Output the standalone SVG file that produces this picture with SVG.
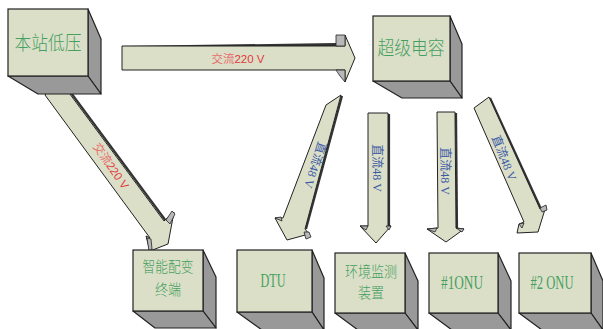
<svg xmlns="http://www.w3.org/2000/svg" width="603" height="329" viewBox="0 0 603 329">
<style>
.front{fill:#dcdfc8;stroke:#222;stroke-width:1.2}
.side{fill:#999;stroke:#222;stroke-width:1.2;stroke-linejoin:round}
.arrow{fill:#dcdfc8;stroke:#222;stroke-width:1;stroke-linejoin:miter}
.shadow{fill:none;stroke:#333;stroke-width:2.2}
.bit{fill:#b8b8b8;stroke:#222;stroke-width:0.8}
.lbl{font-family:"Liberation Serif","Noto Sans CJK SC",serif;font-weight:300;fill:#45a060;text-anchor:middle;dominant-baseline:central}
.red{font-family:"Liberation Sans","Noto Sans CJK SC",sans-serif;font-size:11.5px;fill:#e03a3a;text-anchor:middle;dominant-baseline:central}
.blue{font-family:"Liberation Serif","Noto Sans CJK SC",serif;font-size:12px;fill:#3b5ba5;text-anchor:middle;dominant-baseline:central}
</style>
<rect width="603" height="329" fill="#fff"/>

<g id="connectors">
  <!-- horizontal 220V -->
  <g id="c-h">
    <polygon points="122,46 336,43 336,46" fill="#333"/>
    <polygon class="arrow" points="122,46 345,46 345,35 355,58 345,82 345,70 122,70"/>
    <polygon class="bit" points="336,35 345,35 345,46 336,46"/>
    <polygon class="bit" points="336,70 345,70 345,82 340,76"/>
    <text class="red" x="238" y="59"><tspan fill="#e86a6a">交流</tspan>220 V</text>
  </g>
  <!-- diagonal 220V -->
  <g id="c-d">
    <line class="shadow" x1="60" y1="78" x2="166" y2="221"/>
    <polygon class="arrow" points="58,78 164,221 174,212 168,244 150,251 146,236 150,238 45,95"/>
    <polygon class="bit" points="166,220 172,211 175,214 170,224"/>
    <polygon class="bit" points="147,238 151,239 152,249 149,251"/>
    <text class="red" transform="translate(111,166) rotate(55.2)" font-size="12"><tspan fill="#e86a6a">交流</tspan>220 V</text>
  </g>
  <!-- A to DTU -->
  <g id="c-a">
    <line class="shadow" x1="342" y1="96" x2="306" y2="229"/>
    <polygon class="arrow" points="326,105 341,95 305,229 309,234 287,240 275,218 283,218"/>
    <polygon class="bit" points="304,232 309,232 311,237 306,239"/>
    <polygon class="bit" points="275,218 281,217 282,221"/>
    <text class="blue" transform="translate(315,165) rotate(107.8)">直流48 V</text>
  </g>
  <!-- B to 环境监测 -->
  <g id="c-b">
    <line class="shadow" x1="389" y1="114" x2="389" y2="226"/>
    <polygon class="arrow" points="368,113 388,113 388,226 391,226 376,243 360,226 368,226"/>
    <polygon class="bit" points="360,226 368,226 366,230"/>
    <polygon class="bit" points="386,226 391,226 389,230"/>
    <text class="blue" transform="translate(377,168) rotate(90)">直流48 V</text>
  </g>
  <!-- C to #1ONU -->
  <g id="c-c">
    <line class="shadow" x1="456" y1="113" x2="457" y2="228"/>
    <polygon class="arrow" points="437,112 455,112 456,228 464,229 446,242 427,229 438,228"/>
    <polygon class="bit" points="427,229 437,228 435,232"/>
    <polygon class="bit" points="456,228 464,229 462,232"/>
    <text class="blue" transform="translate(445,171) rotate(90)">直流48 V</text>
  </g>
  <!-- D to #2ONU -->
  <g id="c-dd">
    <line class="shadow" x1="490" y1="98" x2="541" y2="209"/>
    <polygon class="arrow" points="474,108 489,97 540,209 546,206 538,232 517,233 519,224 524,222"/>
    <polygon class="bit" points="540,208 546,205 547,210 542,212"/>
    <polygon class="bit" points="519,224 524,223 522,228"/>
    <text class="blue" transform="translate(504,158) rotate(68.3)">直流48 V</text>
  </g>
</g>

<g id="node-bzdy">
  <polygon class="side" points="88,9 101,39 101,94 88,76"/>
  <polygon class="side" points="8,76 38,94 101,94 88,76"/>
  <rect class="front" x="8" y="9" width="80" height="67"/>
  <text class="lbl" x="48" y="43" font-size="19" textLength="67" lengthAdjust="spacingAndGlyphs">本站低压</text>
</g>
<g id="node-cjdr">
  <polygon class="side" points="450,16 462,44 462,98 450,81"/>
  <polygon class="side" points="373,81 402,98 462,98 450,81"/>
  <rect class="front" x="373" y="16" width="77" height="65"/>
  <text class="lbl" x="411" y="48" font-size="19" textLength="67" lengthAdjust="spacingAndGlyphs">超级电容</text>
</g>
<g id="node-znpb">
  <polygon class="side" points="203,250 216,277 216,328 203,311"/>
  <polygon class="side" points="133,311 155,328 216,328 203,311"/>
  <rect class="front" x="133" y="250" width="70" height="61"/>
  <text class="lbl" x="168" y="267" font-size="15" textLength="51" lengthAdjust="spacingAndGlyphs">智能配变</text>
  <text class="lbl" x="168" y="290" font-size="15" textLength="26" lengthAdjust="spacingAndGlyphs">终端</text>
</g>
<g id="node-dtu">
  <polygon class="side" points="312,250 324,278 324,330 312,312"/>
  <polygon class="side" points="237,312 262,330 324,330 312,312"/>
  <rect class="front" x="237" y="250" width="75" height="62"/>
  <text class="lbl" x="273" y="281" font-size="18" textLength="25" lengthAdjust="spacingAndGlyphs">DTU</text>
</g>
<g id="node-hjjc">
  <polygon class="side" points="405,253 418,281 418,330 405,313"/>
  <polygon class="side" points="335,313 358,330 418,330 405,313"/>
  <rect class="front" x="335" y="253" width="70" height="60"/>
  <text class="lbl" x="371" y="272" font-size="15" textLength="52" lengthAdjust="spacingAndGlyphs">环境监测</text>
  <text class="lbl" x="371" y="293" font-size="15" textLength="26" lengthAdjust="spacingAndGlyphs">装置</text>
</g>
<g id="node-onu1">
  <polygon class="side" points="498,253 511,281 511,330 498,313"/>
  <polygon class="side" points="429,313 452,330 511,330 498,313"/>
  <rect class="front" x="429" y="253" width="69" height="60"/>
  <text class="lbl" x="462" y="283" font-size="18" textLength="42" lengthAdjust="spacingAndGlyphs">#1ONU</text>
</g>
<g id="node-onu2">
  <polygon class="side" points="591,253 603,281 603,330 591,313"/>
  <polygon class="side" points="519,313 542,330 603,330 591,313"/>
  <rect class="front" x="519" y="253" width="72" height="60"/>
  <text class="lbl" x="552" y="283" font-size="18" textLength="43" lengthAdjust="spacingAndGlyphs">#2 ONU</text>
</g>
</svg>
